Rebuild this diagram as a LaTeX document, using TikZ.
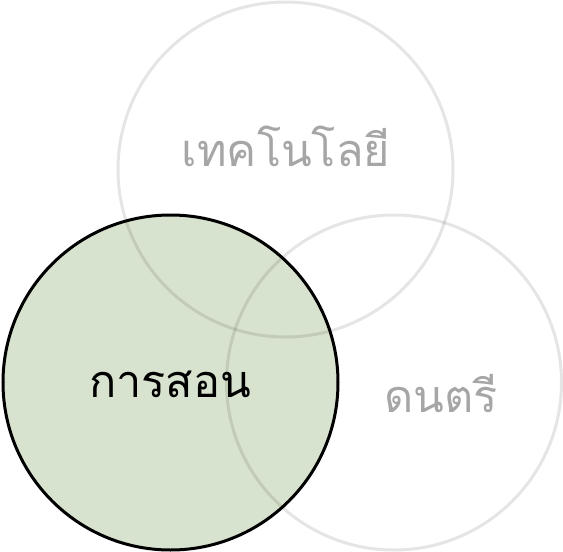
\documentclass[tikz,border=0pt]{standalone}
\usepackage{fontspec}
\newfontfamily\thaifont[Script=Thai]{Loma}
\usepackage{tikz}
\usetikzlibrary{positioning}

\begin{document}
\begin{tikzpicture}[x=1pt, y=-1pt,
    set/.style = {circle, minimum size = 335pt, inner sep = 0pt, line width = 3pt},
    faded/.style = {set, draw = black, draw opacity = 0.1},
    setlabel/.style = {font = \thaifont\fontsize{45}{50}\selectfont}]
  \useasboundingbox (0,0) rectangle (563,552);

  \node[set, draw = black, fill = {rgb,255:red,215;green,227;blue,206}] (teach) at (170.5,382.5) {};
  \node[faded] (tech) at (285.5,169.5) {};
  \node[faded] (music) at (394,382.5) {};

  \node[setlabel, text = black!35] (techlabel) at (286,146) {เทคโนโลยี};
  \node[setlabel, text = black!35] (musiclabel) at (441,394) {ดนตรี};
  \node[setlabel] (teachlabel) at (170,384) {การสอน};
\end{tikzpicture}
\end{document}
